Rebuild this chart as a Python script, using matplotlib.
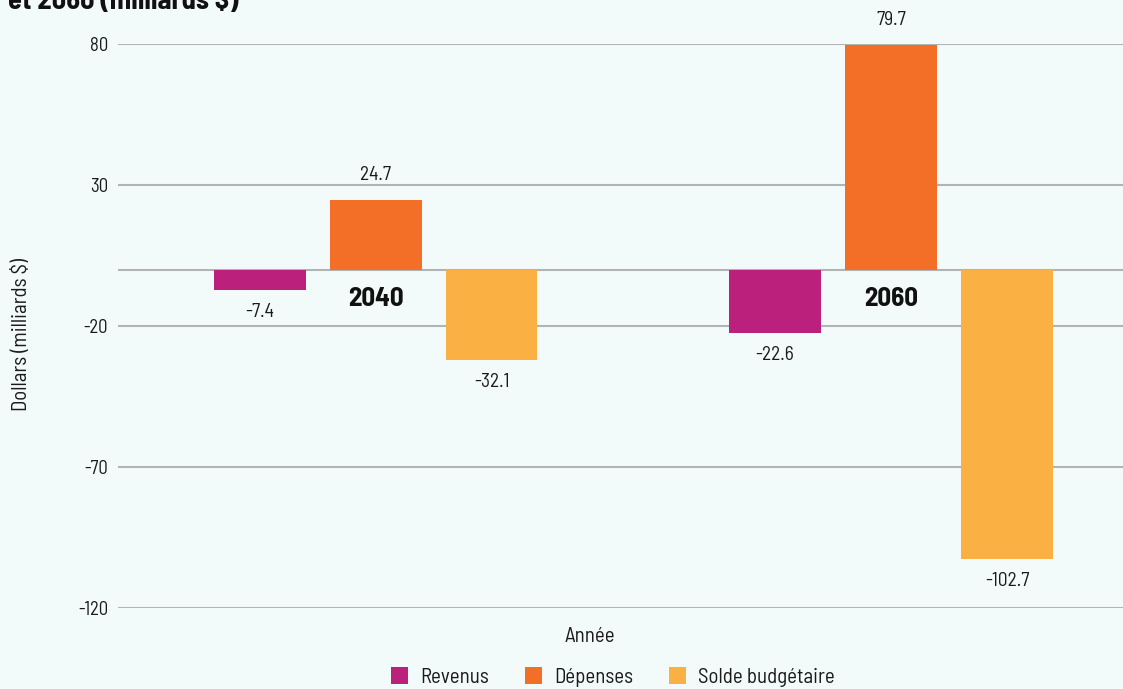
import numpy as np
import matplotlib.pyplot as plt
from matplotlib import font_manager as fm

# police condensee si disponible
dispo = {f.name for f in fm.fontManager.ttflist}
police = next((p for p in ['Barlow Semi Condensed', 'Barlow Condensed', 'Roboto Condensed',
                           'Liberation Sans Narrow', 'DejaVu Sans'] if p in dispo), 'DejaVu Sans')
plt.rcParams['font.family'] = [police, 'DejaVu Sans']
plt.rcParams['axes.unicode_minus'] = False

# donnees
annees = ['2040', '2060']
series = ['Revenus', 'Dépenses', 'Solde budgétaire']
revenus = [-7.4, -22.6]
depenses = [24.7, 79.7]
solde = [-32.1, -102.7]
couleurs = ['#BB207C', '#F36F27', '#FAB043']
yticks = [80, 30, -20, -70, -120]

fond = '#F3FBFA'
fig = plt.figure(figsize=(11.23, 6.89), dpi=100, facecolor=fond)
ax = fig.add_axes([0.105, 0.1176, 0.895, 0.8185], facecolor=fond)

x = np.arange(len(annees))
larg = 0.178
ecart = 0.225
for i, (vals, nom, c) in enumerate(zip([revenus, depenses, solde], series, couleurs)):
    pos = x + (i - 1) * ecart
    ax.bar(pos, vals, width=larg, color=c, label=nom, zorder=3)
    for px_, v in zip(pos, vals):
        dy = 25 if v > 0 else -22
        ax.annotate(f'{v:.1f}', (px_, v), xytext=(0, dy), textcoords='offset pixels',
                    ha='center', va='center', fontsize=14, color='#1a1a1a',
                    annotation_clip=False)

# annees sous la ligne zero
for xi, a in zip(x, annees):
    ax.annotate(a, (xi, 0), xytext=(0, -29), textcoords='offset pixels',
                ha='center', va='center', fontsize=19.5, fontweight='bold', color='#111111')

ax.set_xlim(-0.5, 1.45)
ax.set_ylim(-120, 80)
ax.set_yticks(yticks)
ax.set_xticks([])
ax.tick_params(axis='y', length=0, pad=7, labelsize=13.5, labelcolor='#1a1a1a')
ax.grid(axis='y', color='#B1B4B4', linewidth=1.5, zorder=1)
ax.axhline(0, color='#B1B4B4', linewidth=1.5, zorder=1)
for s in ax.spines.values():
    s.set_visible(False)

fig.text(0.007, 1 - 9 / 689, 'et 2060 (milliards $)', fontsize=20.5, fontweight='bold',
         va='baseline', ha='left', color='#111111')
fig.text(22 / 1123, 1 - 335 / 689, 'Dollars (milliards $)', rotation=90,
         ha='center', va='center', fontsize=15, color='#1a1a1a')
fig.text(590 / 1123, 1 - 636 / 689, 'Année', ha='center', va='center',
         fontsize=15, color='#1a1a1a')

fig.legend(loc='center', bbox_to_anchor=(613 / 1123, 1 - 677 / 689), ncol=3,
           frameon=False, fontsize=15, handlelength=0.82, handleheight=0.82,
           handletextpad=0.6, columnspacing=1.7, labelcolor='#1a1a1a')

fig.savefig('out.png', dpi=100, facecolor=fond)
